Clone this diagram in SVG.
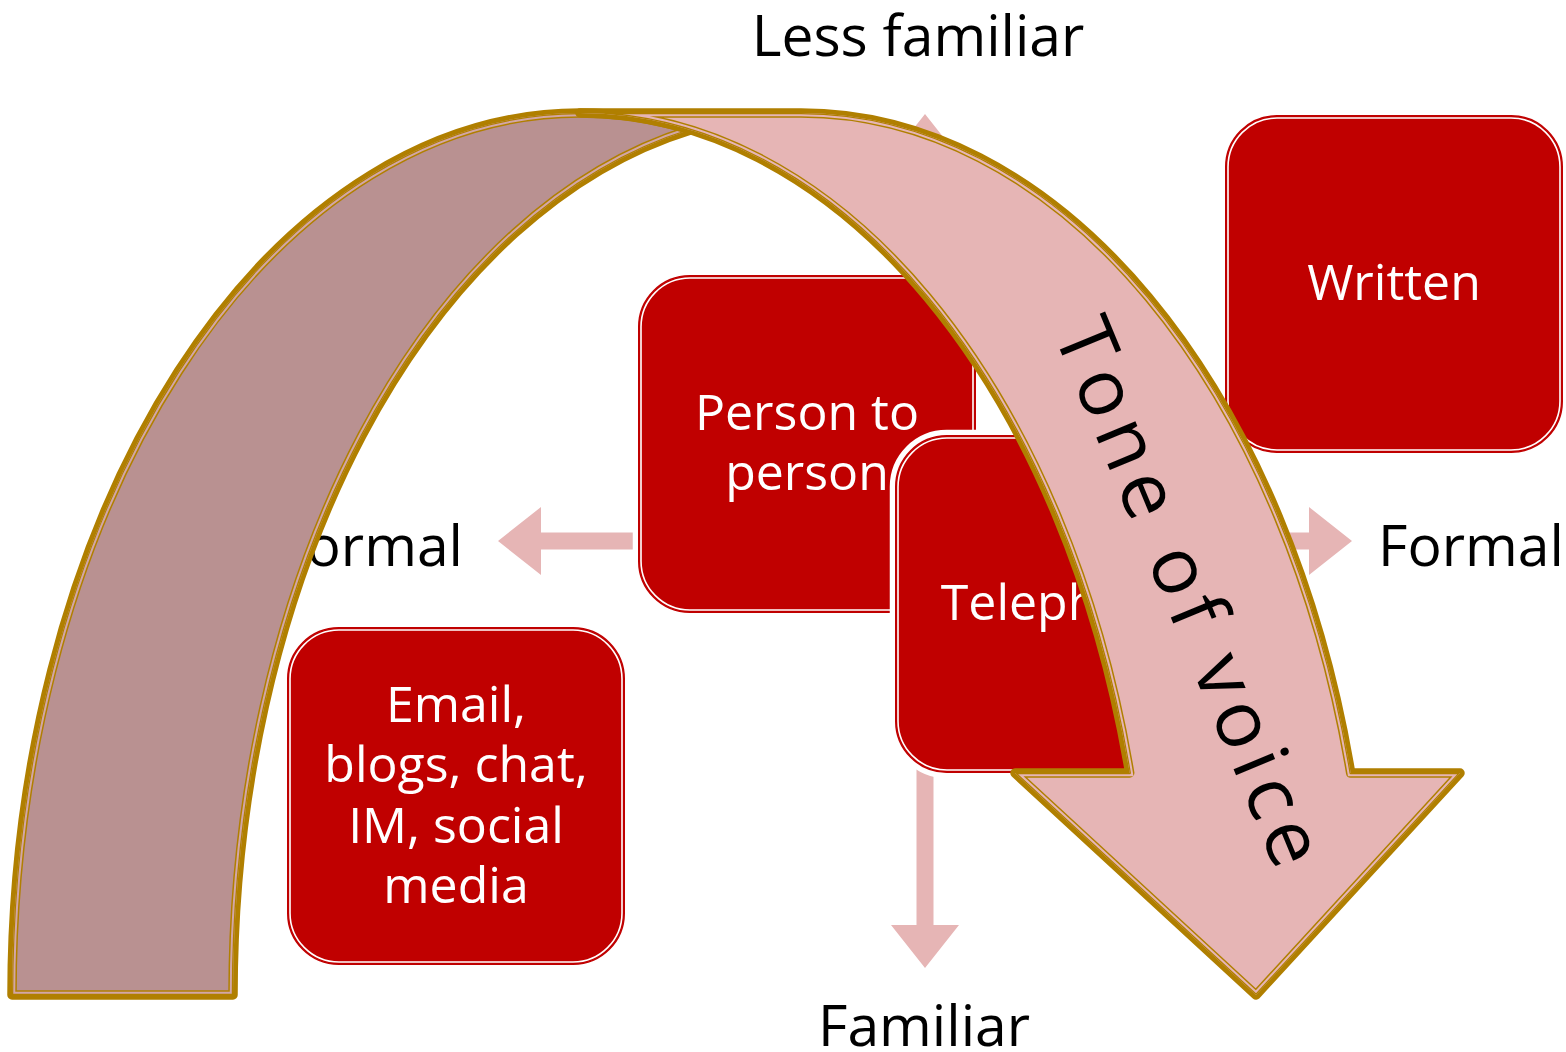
<svg xmlns="http://www.w3.org/2000/svg" xmlns:xlink="http://www.w3.org/1999/xlink" width="1566" height="1052" viewBox="0 0 1566 1052">
<style>
.lbl{font-family:"Open Sans","Noto Sans","Liberation Sans",sans-serif;font-size:57px;fill:#000}
.btx{font-family:"Open Sans","Noto Sans","Liberation Sans",sans-serif;font-size:50px;fill:#fff;text-anchor:middle}
.halo{fill:none;stroke:#fff;stroke-width:12}
.bx{fill:#C00000;stroke:#C00000;stroke-width:1.5}
.inl{fill:none;stroke:#fff;stroke-width:1.6}
.gold{fill:none;stroke:#B07F00;stroke-linejoin:round}
.tone{font-family:"Open Sans","Noto Sans","Liberation Sans",sans-serif;font-size:79px;fill:#000;text-anchor:middle}
</style>
<defs>
<path id="backP" d="M 12 995 A 568 882 0 0 1 580 113 A 568 882 0 0 1 690.5 129.85 A 568 882 0 0 0 233 995 Z"/>
<path id="frontP" d="M 580 113 L 801 113 A 568 882 0 0 1 1350.7 773 L 1460 773 L 1256 995 L 1015 773 L 1129.7 773 A 568 882 0 0 0 580 113 Z"/>
<clipPath id="cb"><use xlink:href="#backP"/></clipPath>
<clipPath id="cf"><use xlink:href="#frontP"/></clipPath>
</defs>

<g id="cross">
<path fill="#E6B5B5" d="M 498 541 L 541 507 L 541 532.5 L 916.5 532.5 L 916.5 157 L 891 157 L 925 114 L 959 157 L 933.5 157 L 933.5 532.5 L 1309 532.5 L 1309 507 L 1352 541 L 1309 575 L 1309 549.5 L 933.5 549.5 L 933.5 925 L 959 925 L 925 968 L 891 925 L 916.5 925 L 916.5 549.5 L 541 549.5 L 541 575 Z"/>
</g>

<g id="labels">
<text class="lbl" x="918" y="56" text-anchor="middle">Less familiar</text>
<text class="lbl" x="924" y="1046" text-anchor="middle">Familiar</text>
<text class="lbl" x="1378" y="566">Formal</text>
<text class="lbl" x="463" y="566" text-anchor="end">Informal</text>
</g>

<g id="person">
<rect class="halo" x="638.75" y="275.75" width="336.5" height="336.5" rx="51"/>
<rect class="bx" x="638.75" y="275.75" width="336.5" height="336.5" rx="51"/>
<rect class="inl" x="641" y="278" width="332" height="332" rx="49"/>
<text class="btx" x="807" y="430">Person to</text>
<text class="btx" x="807" y="490">person</text>
</g>

<g id="email">
<rect class="halo" x="287.75" y="627.75" width="336.5" height="336.5" rx="51"/>
<rect class="bx" x="287.75" y="627.75" width="336.5" height="336.5" rx="51"/>
<rect class="inl" x="290" y="630" width="332" height="332" rx="49"/>
<text class="btx" x="456" y="722">Email,</text>
<text class="btx" x="456" y="782">blogs, chat,</text>
<text class="btx" x="456" y="843">IM, social</text>
<text class="btx" x="456" y="903">media</text>
</g>

<g id="written">
<rect class="halo" x="1225.75" y="115.75" width="336.5" height="336.5" rx="51"/>
<rect class="bx" x="1225.75" y="115.75" width="336.5" height="336.5" rx="51"/>
<rect class="inl" x="1228" y="118" width="332" height="332" rx="49"/>
<text class="btx" x="1394" y="300">Written</text>
</g>

<g id="telephone">
<rect class="halo" x="895.75" y="435.75" width="336.5" height="336.5" rx="51"/>
<rect class="bx" x="895.75" y="435.75" width="336.5" height="336.5" rx="51"/>
<rect class="inl" x="898" y="438" width="332" height="332" rx="49"/>
<text class="btx" x="1064" y="620">Telephone</text>
</g>

<g id="tone-arrow">
<use xlink:href="#backP" fill="#B99191"/>
<use xlink:href="#backP" class="gold" stroke-width="9.5"/>
<g clip-path="url(#cb)">
<use xlink:href="#backP" fill="none" stroke="#D2A6A6" stroke-width="6.5"/>
<use xlink:href="#backP" class="gold" stroke-width="2.5"/>
</g>
<use xlink:href="#frontP" fill="#E6B5B5"/>
<use xlink:href="#frontP" class="gold" stroke-width="9.5"/>
<g clip-path="url(#cf)">
<use xlink:href="#frontP" fill="none" stroke="#E6B5B5" stroke-width="6.5"/>
<use xlink:href="#frontP" class="gold" stroke-width="2.5"/>
</g>
<text class="tone" transform="translate(1166 606) rotate(67.5)" letter-spacing="8">Tone of voice</text>
</g>
</svg>
